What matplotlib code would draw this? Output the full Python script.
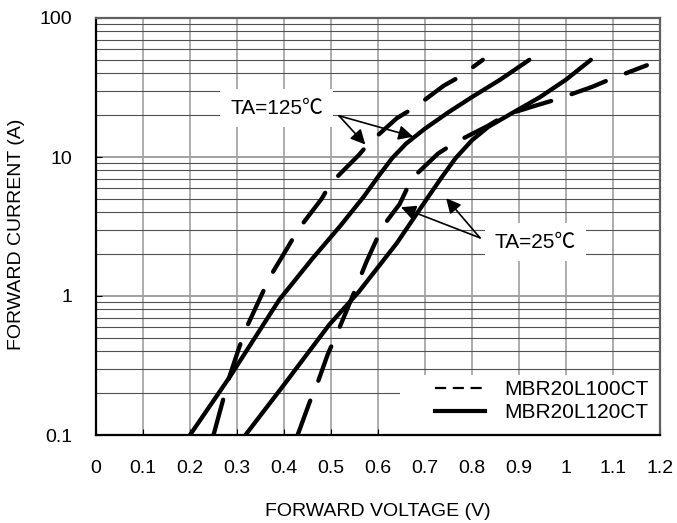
import numpy as np
import matplotlib
matplotlib.use("Agg")
import matplotlib.pyplot as plt
from matplotlib.lines import Line2D
from matplotlib.patches import Rectangle
from matplotlib.ticker import FixedLocator, NullFormatter

plt.rcParams['font.family'] = ['Liberation Sans', 'DejaVu Sans']

# MBR20L100CT (dashed) and MBR20L120CT (solid)
v100_125 = [0.25, 0.27, 0.28, 0.305, 0.32, 0.35, 0.37, 0.41, 0.43, 0.48, 0.50,
            0.56, 0.58, 0.64, 0.68, 0.74, 0.775, 0.823]
i100_125 = [0.1, 0.177, 0.24, 0.43, 0.59, 0.98, 1.37, 2.3, 3.0, 5.0, 6.5,
            10.4, 12.5, 19, 23, 32.6, 38, 50]

v120_125 = [0.2, 0.284, 0.39, 0.46, 0.52, 0.57, 0.60, 0.63, 0.66, 0.70, 0.75, 0.80,
            0.86, 0.922]
i120_125 = [0.1, 0.26, 0.94, 1.85, 3.2, 5.2, 7.2, 9.8, 12.5, 16.0, 21, 27,
            36, 50]

v100_25 = [0.429, 0.455, 0.472, 0.493, 0.516, 0.545, 0.575, 0.609, 0.646, 0.672,
           0.728, 0.764, 0.833, 0.874, 0.942, 0.982, 1.055, 1.092, 1.172]
i100_25 = [0.1, 0.174, 0.24, 0.38, 0.57, 0.98, 1.75, 3.13, 4.58, 7.0,
           10.6, 12.7, 16.7, 20.2, 23.8, 26.1, 31.9, 36, 45.7]

v120_25 = [0.318, 0.40, 0.496, 0.559, 0.64, 0.704, 0.735, 0.765, 0.80, 0.835,
           0.881, 0.945, 1.0, 1.053]
i120_25 = [0.1, 0.23, 0.62, 1.07, 2.4, 5.0, 7.1, 9.8, 13.2, 16.5,
           20.3, 27, 36, 50]

labels = ["MBR20L100CT", "MBR20L120CT"]
xticks = [0, 0.1, 0.2, 0.3, 0.4, 0.5, 0.6, 0.7, 0.8, 0.9, 1, 1.1, 1.2]
xticklabels = ["0", "0.1", "0.2", "0.3", "0.4", "0.5", "0.6", "0.7", "0.8", "0.9", "1", "1.1", "1.2"]
yticks = [0.1, 1, 10, 100]
yticklabels = ["0.1", "1", "10", "100"]

fig = plt.figure(figsize=(6.77, 5.23), dpi=100)
ax = fig.add_axes([96/677, 88/523, 564/677, 417/523])
ax.set_yscale('log')
ax.set_xlim(0, 1.2)
ax.set_ylim(0.1, 100)
ax.set_axisbelow(True)

# grid
ax.set_xticks(xticks)
ax.set_xticklabels(xticklabels)
ax.set_yticks(yticks)
ax.set_yticklabels(yticklabels)
minors = [m * 10.0**e for e in (-1, 0, 1) for m in range(2, 10)]
ax.yaxis.set_minor_locator(FixedLocator(minors))
ax.yaxis.set_minor_formatter(NullFormatter())
ax.grid(True, axis='x', which='major', color='#a0a0a0', lw=1.2)
ax.grid(True, axis='y', which='major', color='#a0a0a0', lw=1.4)
ax.grid(True, axis='y', which='minor', color='#505050', lw=0.8)
ax.tick_params(axis='both', which='major', direction='in', length=4, width=0.8,
               labelsize=14)
ax.tick_params(axis='x', pad=18)
ax.tick_params(axis='y', pad=17)
ax.tick_params(axis='y', which='minor', length=0)
for s in ax.spines.values():
    s.set_linewidth(1.6)
    s.set_color('#606060')
ax.spines['left'].set_color('black')
ax.spines['bottom'].set_color('black')

# legend background
ax.add_patch(Rectangle((0.539, 0), 0.461, 0.144, transform=ax.transAxes,
                       facecolor='white', edgecolor='none', zorder=1))

dash = (8.5, 5.0)
kw = dict(color='black', lw=3.1, solid_capstyle='round', dash_capstyle='round',
          solid_joinstyle='round', zorder=2)
ax.plot(v100_125, i100_125, dashes=dash, **kw)
ax.plot(v100_25, i100_25, dashes=dash, **kw)
ax.plot(v120_125, i120_125, **kw)
ax.plot(v120_25, i120_25, **kw)

# annotations
fam = ['Liberation Sans', 'Noto Sans CJK SC']
box = dict(facecolor='white', edgecolor='none', pad=7)
arr = dict(arrowstyle='-|>', mutation_scale=22, lw=1.2, color='black', shrinkA=0, shrinkB=0)
ax.text(0.384, 22.5, "TA=125℃", fontsize=15, family=fam, ha='center', va='center',
        bbox=box, zorder=3)
ax.annotate("", xy=(0.573, 12.3), xytext=(0.517, 19.8), arrowprops=arr, zorder=4)
ax.annotate("", xy=(0.675, 14.0), xytext=(0.517, 19.8), arrowprops=arr, zorder=4)
ax.text(0.935, 2.44, "TA=25℃", fontsize=15, family=fam, ha='center', va='center',
        bbox=box, zorder=3)
ax.annotate("", xy=(0.649, 4.35), xytext=(0.817, 2.62), arrowprops=arr, zorder=4)
ax.annotate("", xy=(0.745, 5.05), xytext=(0.817, 2.62), arrowprops=arr, zorder=4)

handles = [Line2D([], [], color='black', lw=1.6, dashes=(5, 3)),
           Line2D([], [], color='black', lw=3.0)]
ax.legend(handles, labels, loc='lower right', bbox_to_anchor=(0.979, 0.03),
          frameon=False, fontsize=15, borderpad=0, borderaxespad=0,
          handlelength=2.44, handletextpad=0.88, labelspacing=0.2)

ax.set_xlabel("FORWARD VOLTAGE (V)", fontsize=14, labelpad=19)
ax.set_ylabel("FORWARD CURRENT (A)", fontsize=14)
ax.yaxis.set_label_coords(-0.126, 0.482)

fig.savefig("out.png", dpi=100)
